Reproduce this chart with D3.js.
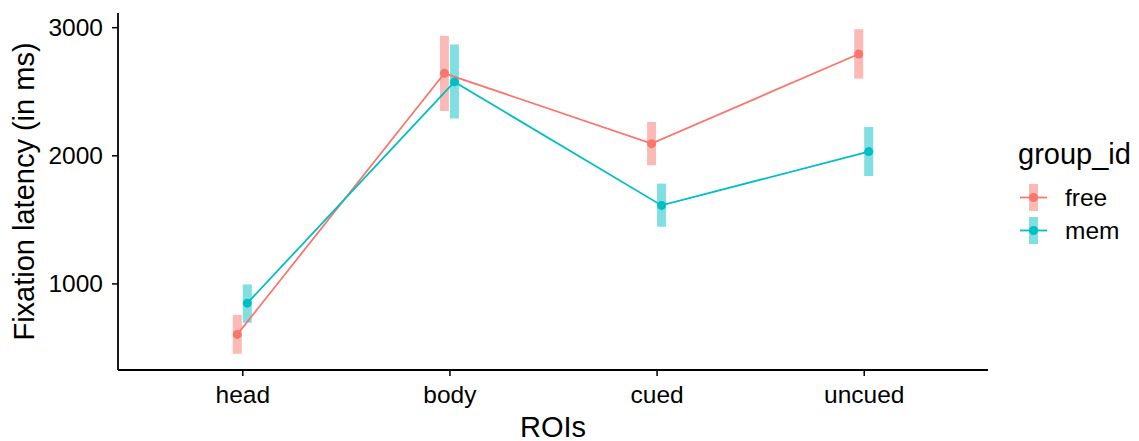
<!DOCTYPE html>
<html>
<head>
<meta charset="utf-8">
<script src="https://cdn.jsdelivr.net/npm/d3@7"></script>
<style>
  body { margin: 0; background: #fff; }
  text { font-family: "Liberation Sans", Arial, sans-serif; }
</style>
</head>
<body>
<div id="chart"></div>
<script>
// Data
const rois = ["head", "body", "cued", "uncued"];
const groups = ["free", "mem"];
const colors = ["#F8766D", "#00BFC4"];
const freeMean = [602, 2640, 2091, 2791];
const freeLow = [451, 2346, 1922, 2599];
const freeHigh = [755, 2932, 2260, 2984];
const memMean = [846, 2573, 1609, 2029];
const memLow = [693, 2287, 1443, 1838];
const memHigh = [992, 2865, 1779, 2221];
const yTicks = [1000, 2000, 3000];

const series = [
    { name: groups[0], mean: freeMean, low: freeLow, high: freeHigh, color: colors[0], dodge: -5 },
    { name: groups[1], mean: memMean, low: memLow, high: memHigh, color: colors[1], dodge: 5 }
];

const W = 1139, H = 441;
const plot = { left: 118, right: 988, top: 13, bottom: 370 };
const tickFont = "24.5px";
const titleFont = "29px";

const svg = d3.select("#chart").append("svg")
    .attr("width", W).attr("height", H);

// Scales (ggplot-like expansion)
const x = d3.scalePoint()
    .domain(rois)
    .range([plot.left, plot.right])
    .padding(0.6);

const allLow = d3.min(series, s => d3.min(s.low));
const allHigh = d3.max(series, s => d3.max(s.high));
const pad = (allHigh - allLow) * 0.05;
const y = d3.scaleLinear()
    .domain([allLow - pad, allHigh + pad])
    .range([plot.bottom, plot.top]);

// Error bars (thick translucent segments)
series.forEach(s => {
    svg.append("g").selectAll("rect")
        .data(rois)
        .join("rect")
        .attr("x", d => x(d) + s.dodge - 4.5)
        .attr("width", 9)
        .attr("y", (d, i) => y(s.high[i]))
        .attr("height", (d, i) => y(s.low[i]) - y(s.high[i]))
        .attr("fill", s.color)
        .attr("opacity", 0.5);
});

// Lines and points
const line = d3.line();
series.forEach(s => {
    const pts = rois.map((d, i) => [x(d) + s.dodge, y(s.mean[i])]);
    svg.append("path")
        .attr("d", line(pts))
        .attr("fill", "none")
        .attr("stroke", s.color)
        .attr("stroke-width", 1.8);
    svg.append("g").selectAll("circle")
        .data(pts)
        .join("circle")
        .attr("cx", d => d[0])
        .attr("cy", d => d[1])
        .attr("r", 4.5)
        .attr("fill", s.color);
});

// Axes
const yAxis = svg.append("g")
    .attr("transform", `translate(${plot.left},0)`)
    .call(d3.axisLeft(y).tickValues(yTicks).tickFormat(d3.format("d")).tickSize(6).tickPadding(9));
yAxis.select(".domain").attr("d", `M0,${plot.top}V${plot.bottom}`).attr("stroke-width", 1.8);
yAxis.selectAll(".tick line").attr("stroke-width", 1.5);
yAxis.selectAll(".tick text").style("font-size", tickFont).attr("fill", "#000");

const xAxis = svg.append("g")
    .attr("transform", `translate(0,${plot.bottom})`)
    .call(d3.axisBottom(x).tickSize(6).tickPadding(9.5));
xAxis.select(".domain").attr("d", `M${plot.left},0H${plot.right}`).attr("stroke-width", 1.8);
xAxis.selectAll(".tick line").attr("stroke-width", 1.5);
xAxis.selectAll(".tick text").style("font-size", tickFont).attr("fill", "#000");

// Axis titles
svg.append("text")
    .attr("x", (plot.left + plot.right) / 2)
    .attr("y", 436.5)
    .attr("text-anchor", "middle")
    .style("font-size", titleFont)
    .text("ROIs");

svg.append("text")
    .attr("transform", `translate(34,${(plot.top + plot.bottom) / 2}) rotate(-90)`)
    .attr("text-anchor", "middle")
    .style("font-size", titleFont)
    .text("Fixation latency (in ms)");

// Legend
const legend = svg.append("g").attr("transform", "translate(1018,0)");
legend.append("text")
    .attr("x", 0).attr("y", 164)
    .style("font-size", titleFont)
    .text("group_id");

series.forEach((s, i) => {
    const cy = 197.5 + i * 33;
    const g = legend.append("g");
    g.append("rect")
        .attr("x", 15.5 - 4.5).attr("y", cy - 13.5)
        .attr("width", 9).attr("height", 27)
        .attr("fill", s.color).attr("opacity", 0.5);
    g.append("line")
        .attr("x1", 2).attr("x2", 29)
        .attr("y1", cy).attr("y2", cy)
        .attr("stroke", s.color).attr("stroke-width", 1.8);
    g.append("circle")
        .attr("cx", 15.5).attr("cy", cy).attr("r", 4.5)
        .attr("fill", s.color);
    g.append("text")
        .attr("x", 47).attr("y", cy + 8)
        .style("font-size", tickFont)
        .text(s.name);
});
</script>
</body>
</html>
